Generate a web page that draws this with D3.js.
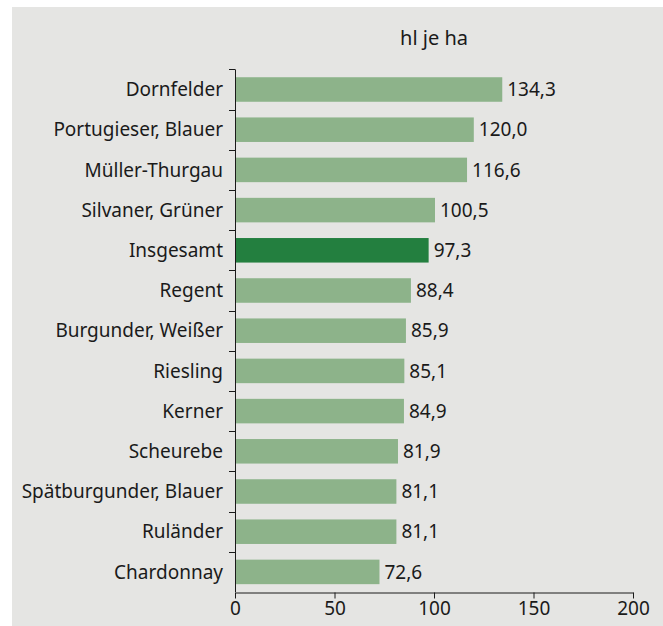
<!DOCTYPE html>
<html>
<head>
<meta charset="utf-8">
<script src="https://cdn.jsdelivr.net/npm/d3@7"></script>
<style>
  body { margin: 0; background: #fff; }
  #chart text { font-family: "Noto Sans", "Open Sans", sans-serif; fill: #1a1a1a; }
</style>
</head>
<body>
<div id="chart"></div>
<script>
// Hektarerträge der Rebsorten (hl je ha)
const sorten = ['Dornfelder', 'Portugieser, Blauer', 'Müller-Thurgau', 'Silvaner, Grüner',
    'Insgesamt', 'Regent', 'Burgunder, Weißer', 'Riesling', 'Kerner', 'Scheurebe',
    'Spätburgunder, Blauer', 'Ruländer', 'Chardonnay'];
const ertrag = [134.3, 120.0, 116.6, 100.5, 97.3, 88.4, 85.9, 85.1, 84.9, 81.9, 81.1, 81.1, 72.6];
const xTicks = [0, 50, 100, 150, 200];
const highlight = 'Insgesamt';

const width = 663, height = 626;
const margin = { top: 69.4, right: 30, bottom: 34, left: 235 };
const fontSize = '19px';

const de = d3.formatLocale({ decimal: ',', thousands: '.', grouping: [3], currency: ['', ' €'] });
const fmt = de.format('.1f');

const svg = d3.select('#chart').append('svg')
    .attr('width', width)
    .attr('height', height);

// grey panel
svg.append('rect')
    .attr('x', 12).attr('y', 7)
    .attr('width', width - 12).attr('height', height - 7)
    .attr('fill', '#e5e5e3');

const x = d3.scaleLinear()
    .domain([0, 200])
    .range([margin.left, 633]);

const y = d3.scaleBand()
    .domain(sorten)
    .range([margin.top, 592])
    .paddingInner(0.39)
    .paddingOuter(0.195);

const data = sorten.map((s, i) => ({ name: s, value: ertrag[i] }));

// bars
svg.append('g').selectAll('rect')
    .data(data)
    .enter()
    .append('rect')
    .attr('x', x(0))
    .attr('y', d => y(d.name))
    .attr('width', d => x(d.value) - x(0))
    .attr('height', y.bandwidth())
    .attr('fill', d => d.name === highlight ? '#237f3f' : '#8db38a');

// value labels
svg.append('g').selectAll('text')
    .data(data)
    .enter()
    .append('text')
    .attr('x', d => x(d.value) + 5)
    .attr('y', d => y(d.name) + y.bandwidth() / 2)
    .attr('dy', '0.35em')
    .style('font-size', fontSize)
    .text(d => fmt(d.value));

// category labels
svg.append('g').selectAll('text')
    .data(data)
    .enter()
    .append('text')
    .attr('x', margin.left - 12)
    .attr('y', d => y(d.name) + y.bandwidth() / 2)
    .attr('dy', '0.35em')
    .attr('text-anchor', 'end')
    .style('font-size', fontSize)
    .text(d => d.name);

// y axis line with ticks between bands
const yAxis = svg.append('g').attr('stroke', '#1a1a1a').attr('stroke-width', 1);
yAxis.append('line')
    .attr('x1', x(0) + 0.5).attr('x2', x(0) + 0.5)
    .attr('y1', margin.top).attr('y2', 592);
const step = y.step();
d3.range(sorten.length).forEach(i => {
    const yy = Math.round(margin.top + i * step) + 0.5;
    yAxis.append('line')
        .attr('x1', x(0) - 6).attr('x2', x(0))
        .attr('y1', yy).attr('y2', yy);
});

// x axis
const xAxis = svg.append('g')
    .attr('transform', 'translate(0,592.5)')
    .call(d3.axisBottom(x).tickValues(xTicks).tickSize(6).tickSizeOuter(0).tickPadding(3));
xAxis.select('.domain').attr('stroke', '#1a1a1a');
xAxis.selectAll('.tick line').attr('stroke', '#1a1a1a');
xAxis.selectAll('.tick text')
    .style('font-size', fontSize)
    .style('font-family', '"Noto Sans", "Open Sans", sans-serif')
    .attr('fill', '#1a1a1a');

// unit title
svg.append('text')
    .attr('x', (x(0) + x(200)) / 2)
    .attr('y', 45)
    .attr('text-anchor', 'middle')
    .style('font-size', '20px')
    .text('hl je ha');
</script>
</body>
</html>
